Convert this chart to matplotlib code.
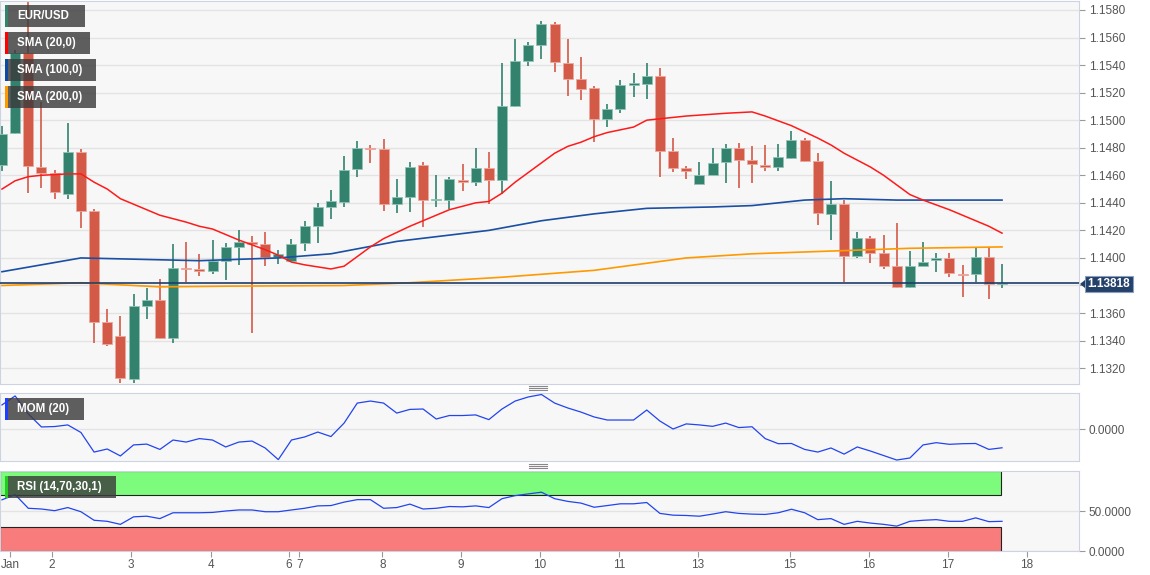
import matplotlib
matplotlib.use("Agg")
import matplotlib.pyplot as plt
from matplotlib.patches import Rectangle, Polygon
from matplotlib.lines import Line2D
import numpy as np

plt.rcParams['font.family'] = ['Liberation Sans', 'DejaVu Sans']

# 4h EUR/USD candles
opens = [1.14675, 1.14909, 1.15485, 1.14658, 1.14614, 1.14462, 1.14767, 1.14341, 1.13537, 1.13436,
         1.13121, 1.13653, 1.13695, 1.13416, 1.13929, 1.13917, 1.13908, 1.13980, 1.14077, 1.14116,
         1.14101, 1.14004, 1.13978, 1.14106, 1.14230, 1.14372, 1.14408, 1.14648, 1.14801, 1.14793,
         1.14392, 1.14440, 1.14677, 1.14418, 1.14423, 1.14566, 1.14549, 1.14655, 1.14566, 1.15105,
         1.15432, 1.15548, 1.15696, 1.15415, 1.15297, 1.15231, 1.15006, 1.15084, 1.15253, 1.15265,
         1.15321, 1.14776, 1.14650, 1.14539, 1.14602, 1.14699, 1.14798, 1.14709, 1.14677, 1.14663,
         1.14728, 1.14856, 1.14706, 1.14321, 1.14392, 1.14016, 1.14145, 1.14033, 1.13941, 1.13787,
         1.13944, 1.13985, 1.13997, 1.13886, 1.13883, 1.14004, 1.13810]
highs = [1.14960, 1.15510, 1.15900, 1.15134, 1.14638, 1.14977, 1.14788, 1.14355, 1.13627, 1.13578,
         1.13736, 1.13779, 1.13845, 1.14099, 1.14113, 1.14026, 1.14130, 1.14106, 1.14203, 1.14159,
         1.14186, 1.14058, 1.14135, 1.14271, 1.14396, 1.14493, 1.14740, 1.14849, 1.14820, 1.14861,
         1.14571, 1.14694, 1.14694, 1.14602, 1.14588, 1.14682, 1.14800, 1.14767, 1.15413, 1.15587,
         1.15565, 1.15718, 1.15710, 1.15587, 1.15456, 1.15248, 1.15115, 1.15292, 1.15345, 1.15418,
         1.15377, 1.14873, 1.14670, 1.14694, 1.14800, 1.14825, 1.14837, 1.14813, 1.14820, 1.14825,
         1.14922, 1.14873, 1.14759, 1.14559, 1.14420, 1.14186, 1.14159, 1.14167, 1.14256, 1.14053,
         1.14113, 1.14038, 1.14033, 1.13949, 1.14077, 1.14077, 1.13956]
lows = [1.14634, 1.14900, 1.14469, 1.14505, 1.14425, 1.14425, 1.14220, 1.13385, 1.13360, 1.13090,
        1.13094, 1.13554, 1.13409, 1.13380, 1.13828, 1.13869, 1.13883, 1.13840, 1.13949, 1.13453,
        1.13941, 1.13956, 1.13973, 1.14053, 1.14106, 1.14280, 1.14367, 1.14585, 1.14692, 1.14343,
        1.14324, 1.14331, 1.14222, 1.14367, 1.14353, 1.14488, 1.14522, 1.14392, 1.14462, 1.15098,
        1.15396, 1.15442, 1.15347, 1.15178, 1.15149, 1.14844, 1.14953, 1.15055, 1.15171, 1.15156,
        1.14585, 1.14626, 1.14575, 1.14539, 1.14602, 1.14546, 1.14505, 1.14542, 1.14634, 1.14634,
        1.14716, 1.14694, 1.14239, 1.14130, 1.13828, 1.13997, 1.13961, 1.13917, 1.13779, 1.13779,
        1.13944, 1.13895, 1.13859, 1.13714, 1.13828, 1.13700, 1.13779]
closes = [1.14897, 1.15485, 1.14670, 1.14614, 1.14476, 1.14767, 1.14341, 1.13537, 1.13373, 1.13126,
          1.13651, 1.13695, 1.13416, 1.13929, 1.13917, 1.13908, 1.13980, 1.14077, 1.14116, 1.14101,
          1.14004, 1.14031, 1.14104, 1.14230, 1.14367, 1.14416, 1.14638, 1.14796, 1.14793, 1.14392,
          1.14440, 1.14658, 1.14418, 1.14425, 1.14576, 1.14549, 1.14655, 1.14566, 1.15105, 1.15427,
          1.15546, 1.15696, 1.15420, 1.15299, 1.15224, 1.15006, 1.15084, 1.15253, 1.15268, 1.15323,
          1.14779, 1.14655, 1.14631, 1.14602, 1.14687, 1.14798, 1.14711, 1.14682, 1.14663, 1.14730,
          1.14856, 1.14706, 1.14324, 1.14392, 1.14016, 1.14145, 1.14033, 1.13944, 1.13787, 1.13944,
          1.13973, 1.14002, 1.13888, 1.13879, 1.14007, 1.13808, 1.13818]

# moving averages (candle index, value)
sma20_idx = [0, 1, 2, 3, 5, 6, 7, 8, 9, 10, 12, 14, 15, 16, 18, 20, 21, 22, 23, 25, 26, 27, 28, 29,
             31, 32, 34, 36, 37, 38, 39, 40, 41, 42, 43, 44, 45, 46, 48, 49, 50, 52, 55, 57, 58,
             60, 62, 63, 64, 66, 67, 68, 69, 70, 72, 74, 75, 76]
sma20 = [1.1450, 1.1456, 1.1459, 1.1460, 1.1461, 1.1461, 1.1455, 1.1450, 1.1443, 1.1439, 1.1431,
         1.1426, 1.1423, 1.1421, 1.1413, 1.1406, 1.1402, 1.1397, 1.1395, 1.1392, 1.1394, 1.1401,
         1.1408, 1.1414, 1.1423, 1.1427, 1.1435, 1.1440, 1.1441, 1.1447, 1.1455, 1.1462, 1.1469,
         1.1476, 1.1481, 1.1484, 1.1488, 1.1491, 1.1495, 1.1500, 1.1501, 1.1503, 1.1505, 1.1506,
         1.1503, 1.1496, 1.1487, 1.1482, 1.1476, 1.1466, 1.1460, 1.1453, 1.1446, 1.1442, 1.1435,
         1.1427, 1.1423, 1.1418]
sma100_idx = [0, 6, 15, 21, 25, 30, 37, 41, 45, 49, 54, 57, 61, 64, 68, 76]
sma100 = [1.1390, 1.1400, 1.1398, 1.1400, 1.1403, 1.1412, 1.1420, 1.1427, 1.1432, 1.1436,
          1.1437, 1.1438, 1.1442, 1.1443, 1.1442, 1.1442]
sma200_idx = [0, 6, 12, 17, 26, 31, 38, 45, 52, 57, 63, 69, 76]
sma200 = [1.1380, 1.1382, 1.1379, 1.13795, 1.1380, 1.1382, 1.1386, 1.1391, 1.1400, 1.1403,
          1.1405, 1.1407, 1.1408]
last_price = 1.13818

mom = [0.0118, 0.0162, 0.0074, 0.0010, 0.0012, 0.0020, -0.0017, -0.0113, -0.0098, -0.0132,
       -0.0078, -0.0074, -0.0100, -0.0054, -0.0064, -0.0047, -0.0054, -0.0088, -0.0064, -0.0059,
       -0.0093, -0.0150, -0.0054, -0.0039, -0.0015, -0.0037, 0.0029, 0.0127, 0.0137, 0.0127,
       0.0078, 0.0096, 0.0098, 0.0049, 0.0066, 0.0066, 0.0069, 0.0046, 0.0098, 0.0137,
       0.0157, 0.0169, 0.0127, 0.0103, 0.0083, 0.0059, 0.0044, 0.0044, 0.0044, 0.0093,
       0.0039, 0.0000, 0.0025, 0.0020, 0.0013, 0.0029, 0.0007, 0.0011, -0.0047, -0.0072,
       -0.0071, -0.0100, -0.0113, -0.0093, -0.0123, -0.0088, -0.0108, -0.0130, -0.0152, -0.0142,
       -0.0078, -0.0067, -0.0075, -0.0072, -0.0071, -0.0100, -0.0092]
rsi = [64, 70.5, 53.4, 52.5, 50.4, 54.3, 49.1, 38.4, 37.1, 33.3, 42.7, 43.5, 40.5, 47.8, 47.8,
       47.8, 48.2, 50, 51.3, 51.3, 49.1, 49.1, 51.3, 53.4, 56.4, 56.8, 61.1, 64.2, 64.2, 53.4,
       54.3, 58.6, 52.5, 53.4, 55.6, 55.2, 56.4, 54.3, 65.4, 69.2, 71.4, 73.5, 65.4, 62, 59.9,
       54.7, 56.8, 59, 59, 60.6, 47, 44.8, 44.4, 43.5, 46.1, 49.1, 47, 46.1, 45.7, 47.8, 52.2,
       47.8, 39.2, 40.5, 33.3, 37.1, 34.9, 33.3, 31.1, 37.1, 38.4, 39.2, 37.1, 37.1, 41.4, 36.7,
       37.1]

date_pos = [0.6, 3.8, 9.8, 15.9, 21.8, 22.6, 28.9, 34.9, 40.9, 46.9, 52.9, 59.9, 65.9, 71.9, 77.9]
date_labels = ["Jan", "2", "3", "4", "6", "7", "8", "9", "10", "11", "13", "15", "16", "17", "18"]

W, H = 1150, 575
UP, DOWN = '#33826e', '#d45a48'
BG = '#f7f7f7'
SPINE = '#cdd3e2'
GRID = '#e3e3e3'
TXT = '#555555'


def frect(x0, y0, x1, y1):
    return (x0 / W, 1 - y1 / H, (x1 - x0) / W, (y1 - y0) / H)


fig = plt.figure(figsize=(11.5, 5.75), dpi=100)
ax = fig.add_axes(frect(0, 1, 1079, 384))
ax_m = fig.add_axes(frect(0, 393, 1079, 461), sharex=ax)
ax_r = fig.add_axes(frect(0, 471, 1079, 551), sharex=ax)

x = np.arange(len(closes))
o, h, l, c = map(np.array, (opens, highs, lows, closes))
col = np.where(c >= o, UP, DOWN)
edge = np.where(c >= o, '#92c4b6', '#eca99f')

for a in (ax, ax_m, ax_r):
    a.set_facecolor(BG)
    for s in a.spines.values():
        s.set_color(SPINE)
    a.yaxis.tick_right()
    a.tick_params(axis='y', length=4, color='#999999', labelcolor=TXT, labelsize=8.5, pad=3)
    a.tick_params(axis='x', which='both', length=0, labelbottom=False)

# main price panel
ax.set_xlim(-0.15, 81.85)
ax.set_ylim(1.13085, 1.15865)
yt = np.arange(1.132, 1.1581, 0.002)
ax.set_yticks(yt)
# the 1.1380 label sits under the last-price tag
ax.set_yticklabels(["" if abs(v - last_price) < 0.001 else f"{v:.4f}" for v in yt])
ax.grid(axis='y', color=GRID, lw=1)
ax.set_axisbelow(True)

ax.vlines(x, l, h, colors=col, lw=1.2, zorder=2)
body = np.maximum(np.abs(c - o), 0.00004)
ax.bar(x, body, bottom=np.minimum(o, c), width=0.76, color=col, edgecolor=edge, lw=0.6, zorder=3)

ax.plot(sma200_idx, sma200, color='#ff9900', lw=1.2, zorder=4)
ax.plot(sma100_idx, sma100, color='#1a4fa3', lw=1.2, zorder=4)
ax.plot(sma20_idx, sma20, color='#ff1a1a', lw=1.1, zorder=4)
ax.axhline(last_price, color='#1d3d6c', lw=1.2, zorder=5)

# price tag
px_y = 284
fig.patches.append(Rectangle(frect(1085, 276, 1133, 292)[:2], 48 / W, 16 / H,
                             transform=fig.transFigure, facecolor='#24416a', edgecolor='#8aa0c0',
                             lw=0.8, zorder=10))
fig.patches.append(Polygon([(1080 / W, 1 - px_y / H), (1085 / W, 1 - 280 / H), (1085 / W, 1 - 288 / H)],
                           closed=True, transform=fig.transFigure, facecolor='#24416a', zorder=10))
fig.text(1109 / W, 1 - px_y / H, f"{last_price:.5f}", color='white', fontsize=8.5,
         fontweight='bold', ha='center', va='center', zorder=11)

# legend tags
tags = [("EUR/USD", UP, 85, 5), ("SMA (20,0)", '#ff0000', 90, 32),
        ("SMA (100,0)", '#0d4ba0', 96, 59), ("SMA (200,0)", '#ff9900', 96, 86),
        ("MOM (20)", '#1f3fff', 84, 398), ("RSI (14,70,30,1)", '#22cc22', 116, 476)]
for label, strip, x1, y0 in tags:
    fig.patches.append(Rectangle(frect(5, y0, x1, y0 + 22)[:2], (x1 - 5) / W, 22 / H,
                                 transform=fig.transFigure, facecolor='#3c3c3c', alpha=0.82,
                                 lw=0, zorder=8))
    fig.patches.append(Rectangle(frect(5, y0, 8, y0 + 22)[:2], 3 / W, 22 / H,
                                 transform=fig.transFigure, facecolor=strip, lw=0, zorder=9))
    fig.text(17 / W, 1 - (y0 + 11) / H, label, color='white', fontsize=8.3, fontweight='bold',
             ha='left', va='center', zorder=10)

# MOM panel
ax_m.set_ylim(-0.01568, 0.01764)
ax_m.set_yticks([0])
ax_m.set_yticklabels(["0.0000"])
ax_m.grid(axis='y', color=GRID, lw=1)
ax_m.plot(x, mom, color='#2244ee', lw=0.9, zorder=3)

# RSI panel
ax_r.set_ylim(0, 100)
ax_r.set_yticks([0, 50])
ax_r.set_yticklabels(["0.0000", "50.0000"])
ax_r.grid(axis='y', color=GRID, lw=1)
ax_r.add_patch(Rectangle((-0.15, 70), x[-1] - 0.1 + 0.15, 30, facecolor='#7dfb7d',
                         edgecolor='#222222', lw=0.8, zorder=2))
ax_r.add_patch(Rectangle((-0.15, 0), x[-1] - 0.1 + 0.15, 30, facecolor='#f97c7c',
                         edgecolor='#222222', lw=0.8, zorder=2))
ax_r.plot(x, rsi, color='#2244ee', lw=0.9, zorder=3)
ax_r.set_xticks(date_pos)
ax_r.set_xticklabels(date_labels)
ax_r.tick_params(axis='x', length=4, color='#999999', labelcolor=TXT, labelsize=8.5,
                 labelbottom=True, pad=2)

# panel resize handles
for yy in (388, 466):
    for dy in (-2, 0, 2):
        fig.add_artist(Line2D([529 / W, 547 / W], [1 - (yy + dy) / H] * 2, color='#888888', lw=0.8))

fig.savefig("out.png", dpi=100, facecolor='white')
